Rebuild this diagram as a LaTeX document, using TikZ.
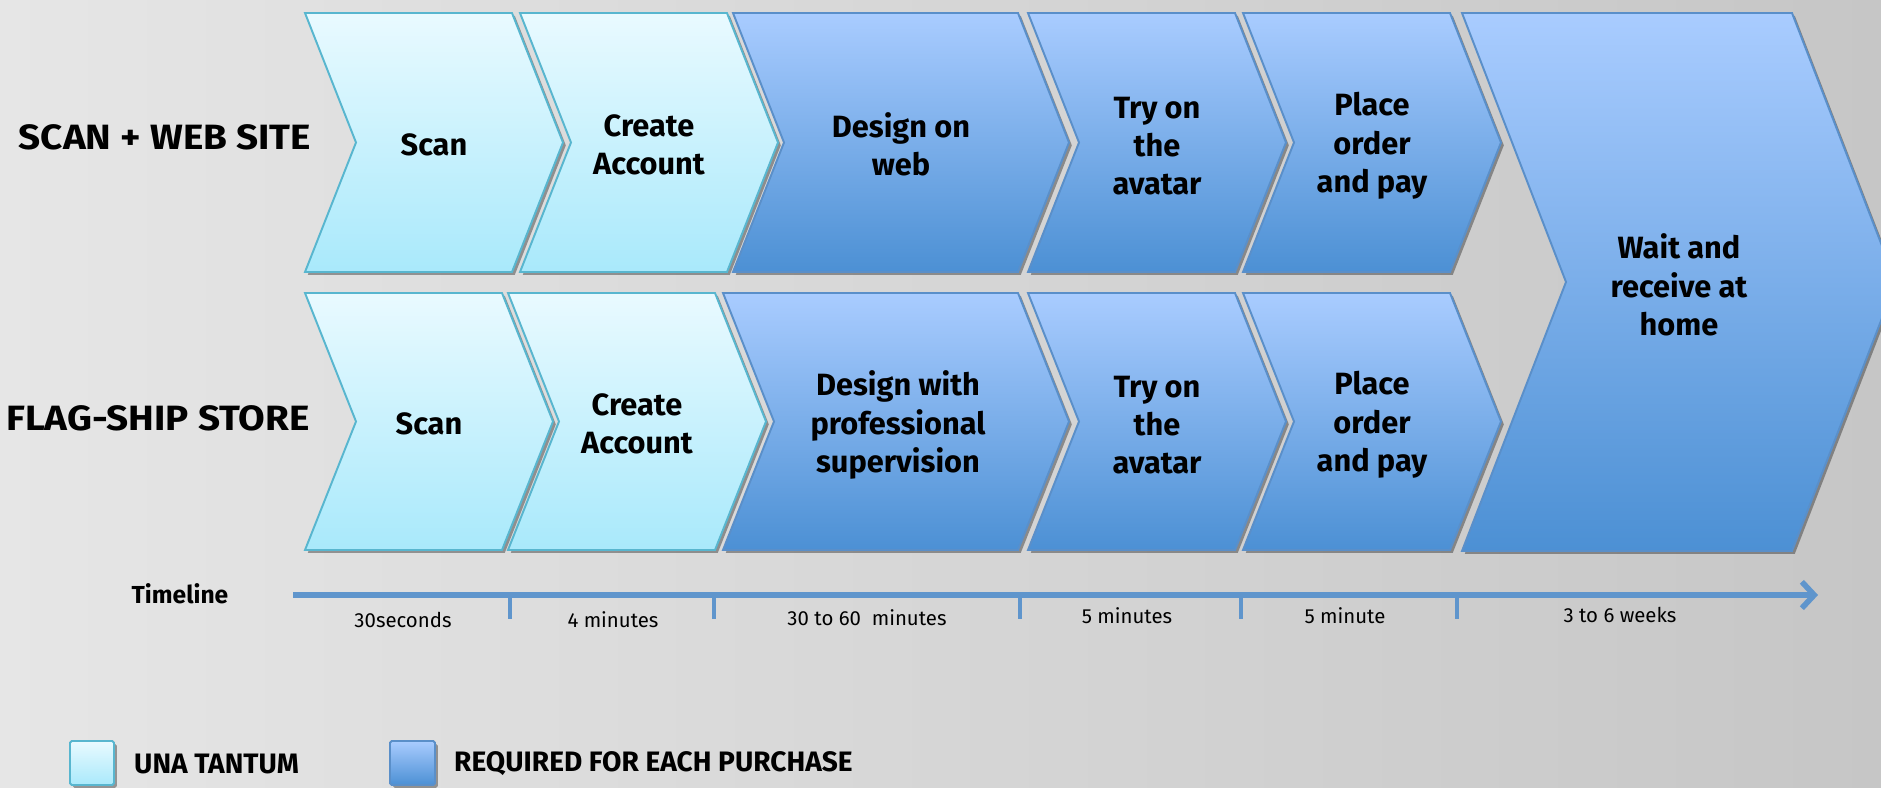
\documentclass[tikz,border=0pt]{standalone}
\usepackage{fontspec}
\setmainfont{Fira Sans}
\newfontfamily\widefont[FakeStretch=1.1]{Fira Sans}
\usetikzlibrary{arrows.meta,shadows}

\definecolor{bgLeft}{HTML}{E6E6E6}
\definecolor{bgRight}{HTML}{C6C6C6}
\definecolor{onceTop}{HTML}{E9FAFF}
\definecolor{onceBot}{HTML}{A9E9FB}
\definecolor{onceEdge}{HTML}{58B6CF}
\definecolor{eachTop}{HTML}{A9CCFF}
\definecolor{eachBot}{HTML}{4C90D4}
\definecolor{eachEdge}{HTML}{5A8FC9}
\definecolor{lineBlue}{HTML}{5F95CC}

\begin{document}
\begin{tikzpicture}[x=0.02cm,y=-0.02cm,
  shade me/.style={drop shadow={shadow xshift=1.6pt,shadow yshift=-1.6pt,opacity=.35,fill=black}},
  once/.style={shade me,draw=onceEdge,line width=1.1pt,line join=miter,top color=onceTop,bottom color=onceBot},
  each/.style={shade me,draw=eachEdge,line width=1.1pt,line join=miter,top color=eachTop,bottom color=eachBot},
  steptxt/.style={align=center,font=\bfseries\fontsize{17.5}{21.8}\selectfont},
  rowtxt/.style={font=\widefont\bfseries\fontsize{20}{24}\selectfont},
  timetxt/.style={font=\fontsize{11.6}{13}\selectfont},
  legtxt/.style={anchor=west,font=\bfseries\fontsize{16}{18}\selectfont},
  tline/.style={draw=lineBlue,line width=3.2pt}]
  \useasboundingbox (0,0) rectangle (1881,788);
  \shade[left color=bgLeft,right color=bgRight] (0,0) rectangle (1881,788);
  \clip (0,0) rectangle (1881,788);

  % row titles
  \node[rowtxt] (web) at (165,137) {SCAN + WEB SITE};
  \node[rowtxt] (store) at (158,418) {FLAG-SHIP STORE};

  % scan + web site
  \path[once] (305,13) -- (512,13) -- (563,142.5) -- (512,272) -- (305,272) -- (356,142.5) -- cycle;
  \path[once] (520,13) -- (727,13) -- (778,142.5) -- (727,272) -- (520,272) -- (571,142.5) -- cycle;
  \path[each] (733,13) -- (1018,13) -- (1069,142.5) -- (1018,272) -- (733,272) -- (784,142.5) -- cycle;
  \path[each] (1028,13) -- (1235,13) -- (1286,142.5) -- (1235,272) -- (1028,272) -- (1079,142.5) -- cycle;
  \path[each] (1243,13) -- (1450,13) -- (1501,142.5) -- (1450,272) -- (1243,272) -- (1294,142.5) -- cycle;
  \node[steptxt] (w1) at (434,145) {Scan};
  \node[steptxt] (w2) at (649,145) {Create\\Account};
  \node[steptxt] (w3) at (901,144) {Design on\\web};
  \node[steptxt] (w4) at (1157,146) {Try on\\the\\avatar};
  \node[steptxt] (w5) at (1372,146) {Place\\order\\and pay};

  % flag-ship store
  \path[once] (305,293) -- (502,293) -- (553,421.5) -- (502,550) -- (305,550) -- (356,421.5) -- cycle;
  \path[once] (508,293) -- (715,293) -- (766,421.5) -- (715,550) -- (508,550) -- (559,421.5) -- cycle;
  \path[each] (723,293) -- (1018,293) -- (1069,421.5) -- (1018,550) -- (723,550) -- (774,421.5) -- cycle;
  \path[each] (1028,293) -- (1235,293) -- (1286,421.5) -- (1235,550) -- (1028,550) -- (1079,421.5) -- cycle;
  \path[each] (1243,293) -- (1450,293) -- (1501,421.5) -- (1450,550) -- (1243,550) -- (1294,421.5) -- cycle;
  \node[steptxt] (s1) at (429,424) {Scan};
  \node[steptxt] (s2) at (637,424) {Create\\Account};
  \node[steptxt] (s3) at (898,425) {Design with\\professional\\supervision};
  \node[steptxt] (s4) at (1157,425) {Try on\\the\\avatar};
  \node[steptxt] (s5) at (1372,425) {Place\\order\\and pay};

  % shared last step
  \path[each] (1462,13) -- (1792,13) -- (1896,282) -- (1792,551) -- (1462,551) -- (1566,282) -- cycle;
  \node[steptxt] (home) at (1679,285) {Wait and\\receive at\\home};

  % timeline
  \node[font=\bfseries\fontsize{14}{16}\selectfont] (tl) at (180,594) {Timeline};
  \coordinate (t0) at (293,595);
  \coordinate (tend) at (1818,595);
  \foreach \x [count=\i] in {510,714,1020,1241,1457} {
    \coordinate (t\i) at (\x,595);
    \coordinate (b\i) at (\x,619);
    \draw[tline,draw=lineBlue,line width=2.8pt] (t\i) -- (b\i);
  }
  \draw[tline,-{Straight Barb[length=7pt,width=15pt]}] (t0) -- (tend);
  \node[timetxt] (d1) at (403,620) {30seconds};
  \node[timetxt] (d2) at (613,620) {4 minutes};
  \node[timetxt] (d3) at (867,618) {30 to 60\ \ minutes};
  \node[timetxt] (d4) at (1127,616) {5 minutes};
  \node[timetxt] (d5) at (1345,616) {5 minute};
  \node[timetxt] (d6) at (1620,615) {3 to 6 weeks};

  % legend
  \path[once,rounded corners=1pt] (70,741) rectangle (114,785);
  \path[each,rounded corners=1pt] (390,741) rectangle (435,785);
  \node[legtxt] (una) at (128,764) {UNA TANTUM};
  \node[legtxt] (req) at (448,764) {REQUIRED FOR EACH PURCHASE};
\end{tikzpicture}
\end{document}
